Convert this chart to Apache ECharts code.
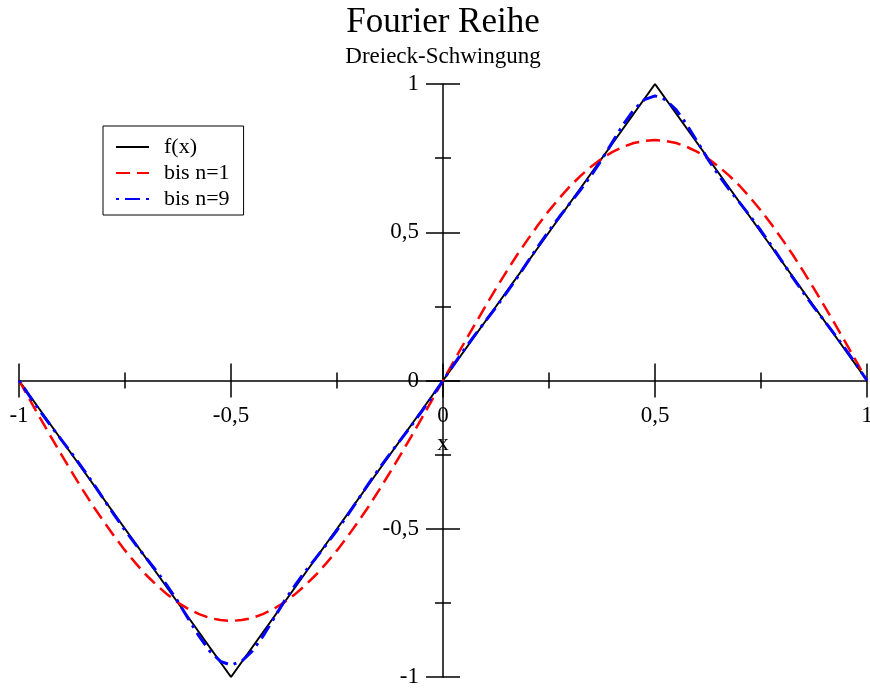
<!DOCTYPE html>
<html>
<head>
<meta charset="utf-8">
<script src="https://cdn.jsdelivr.net/npm/echarts@6/dist/echarts.min.js"></script>
<style>
html,body{margin:0;padding:0;background:#fff;}
#chart{width:870px;height:688px;}
</style>
</head>
<body>
<div id="chart"></div>
<script>
// ---- data ----
const titleText = 'Fourier Reihe';
const subtitleText = 'Dreieck-Schwingung';
const seriesNames = ['f(x)', 'bis n=1', 'bis n=9'];

// f(x): triangle wave corner points
const fxX = [-1, -0.5, 0, 0.5, 1];
const fxY = [0, -1, 0, 1, 0];

// sample positions for the two partial sums
const xs = [-1, -0.975, -0.95, -0.925, -0.9, -0.875, -0.85, -0.825, -0.8, -0.775, -0.75, -0.725, -0.7, -0.675, -0.65, -0.625, -0.6, -0.575, -0.55, -0.525, -0.5,
  -0.475, -0.45, -0.425, -0.4, -0.375, -0.35, -0.325, -0.3, -0.275, -0.25, -0.225, -0.2, -0.175, -0.15, -0.125, -0.1, -0.075, -0.05, -0.025,
  0,
  0.025, 0.05, 0.075, 0.1, 0.125, 0.15, 0.175, 0.2, 0.225, 0.25, 0.275, 0.3, 0.325, 0.35, 0.375, 0.4, 0.425, 0.45, 0.475, 0.5,
  0.525, 0.55, 0.575, 0.6, 0.625, 0.65, 0.675, 0.7, 0.725, 0.75, 0.775, 0.8, 0.825, 0.85, 0.875, 0.9, 0.925, 0.95, 0.975, 1];

const n1Y = [0, -0.064, -0.127, -0.189, -0.250, -0.310, -0.368, -0.424, -0.476, -0.526, -0.573, -0.616, -0.656, -0.691, -0.722, -0.749, -0.771, -0.788, -0.801, -0.808, -0.811,
  -0.808, -0.801, -0.788, -0.771, -0.749, -0.722, -0.691, -0.656, -0.616, -0.573, -0.526, -0.476, -0.424, -0.368, -0.310, -0.250, -0.189, -0.127, -0.064,
  0,
  0.064, 0.127, 0.189, 0.250, 0.310, 0.368, 0.424, 0.476, 0.526, 0.573, 0.616, 0.656, 0.691, 0.722, 0.749, 0.771, 0.788, 0.801, 0.808, 0.811,
  0.808, 0.801, 0.788, 0.771, 0.749, 0.722, 0.691, 0.656, 0.616, 0.573, 0.526, 0.476, 0.424, 0.368, 0.310, 0.250, 0.189, 0.127, 0.064, 0];

const n9Y = [0, -0.053, -0.104, -0.153, -0.200, -0.247, -0.296, -0.347, -0.401, -0.454, -0.505, -0.553, -0.599, -0.644, -0.693, -0.746, -0.805, -0.863, -0.913, -0.947, -0.960,
  -0.947, -0.913, -0.863, -0.805, -0.746, -0.693, -0.644, -0.599, -0.553, -0.505, -0.454, -0.401, -0.347, -0.296, -0.247, -0.200, -0.153, -0.104, -0.053,
  0,
  0.053, 0.104, 0.153, 0.200, 0.247, 0.296, 0.347, 0.401, 0.454, 0.505, 0.553, 0.599, 0.644, 0.693, 0.746, 0.805, 0.863, 0.913, 0.947, 0.960,
  0.947, 0.913, 0.863, 0.805, 0.746, 0.693, 0.644, 0.599, 0.553, 0.505, 0.454, 0.401, 0.347, 0.296, 0.247, 0.200, 0.153, 0.104, 0.053, 0];

const axisMin = -1, axisMax = 1, axisStep = 0.5;
const axisName = 'x';

// ---- chart ----
const FONT = 'Liberation Serif';
const W = 870, H = 688;
const GRID = { left: 19, right: 3, top: 84, bottom: 11 };
const plotW = W - GRID.left - GRID.right;
const plotH = H - GRID.top - GRID.bottom;
// axes cross at value 0 of the -1..1 range
const xShift = -plotW * (0 - axisMin) / (axisMax - axisMin);   // move y axes to x = 0
const yShift = -plotH * (axisMax - 0) / (axisMax - axisMin);   // move x axes to y = 0

const zip = (a, b) => a.map((v, i) => [v, b[i]]);
const fmt = v => String(v).replace('.', ',');

function axisPair(dim) {
  const base = {
    type: 'value', min: axisMin, max: axisMax, interval: axisStep,
    splitLine: { show: false },
    minorSplitLine: { show: false },
    offset: dim === 'x' ? yShift : xShift
  };
  const tick = { show: true, inside: false, length: 17, lineStyle: { color: '#000', width: 1.5 } };
  const minor = { show: true, splitNumber: 2, length: 8, lineStyle: { color: '#000', width: 1.5 } };
  const main = Object.assign({}, base, {
    position: dim === 'x' ? 'bottom' : 'left',
    axisLine: { show: true, onZero: false, lineStyle: { color: '#000', width: 1.5 } },
    axisTick: tick,
    minorTick: minor,
    axisLabel: { show: true, formatter: fmt, margin: 24, color: '#000', fontFamily: FONT, fontSize: 23 }
  });
  if (dim === 'x') {
    Object.assign(main, {
      name: axisName, nameLocation: 'middle', nameGap: 46,
      nameTextStyle: { color: '#000', fontFamily: FONT, fontSize: 23 }
    });
  }
  const second = Object.assign({}, base, {
    position: dim === 'x' ? 'top' : 'right',
    axisLine: { show: false, onZero: false },
    axisTick: tick,
    minorTick: minor,
    axisLabel: { show: false }
  });
  return [main, second];
}

const chart = echarts.init(document.getElementById('chart'), null, { renderer: 'canvas' });
chart.setOption({
  animation: false,
  backgroundColor: '#fff',
  title: {
    text: titleText,
    subtext: subtitleText,
    left: 443, top: 5, padding: 0, itemGap: 5,
    textAlign: 'center',
    textStyle: { color: '#000', fontFamily: FONT, fontSize: 35, fontWeight: 'normal' },
    subtextStyle: { color: '#000', fontFamily: FONT, fontSize: 23 }
  },
  legend: {
    data: seriesNames,
    orient: 'vertical',
    left: 103, top: 126,
    padding: [10, 14, 5, 12],
    itemGap: 4,
    itemWidth: 33, itemHeight: 14,
    borderColor: '#000', borderWidth: 1, borderRadius: 0,
    backgroundColor: '#fff',
    itemStyle: { opacity: 0 },
    textStyle: { color: '#000', fontFamily: FONT, fontSize: 22, padding: [0, 0, 0, 10] }
  },
  grid: Object.assign({ containLabel: false, outerBoundsMode: 'none' }, GRID),
  xAxis: axisPair('x'),
  yAxis: axisPair('y'),
  series: [
    { name: seriesNames[0], type: 'line', data: zip(fxX, fxY), symbol: 'none', xAxisIndex: 0, yAxisIndex: 0,
      lineStyle: { color: '#000', width: 2, type: 'solid' }, itemStyle: { color: '#000' } },
    { name: seriesNames[1], type: 'line', data: zip(xs, n1Y), symbol: 'none', xAxisIndex: 0, yAxisIndex: 0,
      lineStyle: { color: '#ff0000', width: 2.5, type: [14, 7] }, itemStyle: { color: '#ff0000' } },
    { name: seriesNames[2], type: 'line', data: zip(xs, n9Y), symbol: 'none', xAxisIndex: 0, yAxisIndex: 0,
      lineStyle: { color: '#0000ff', width: 3, type: [3, 6, 15, 6] }, itemStyle: { color: '#0000ff' } }
  ]
});
</script>
</body>
</html>
